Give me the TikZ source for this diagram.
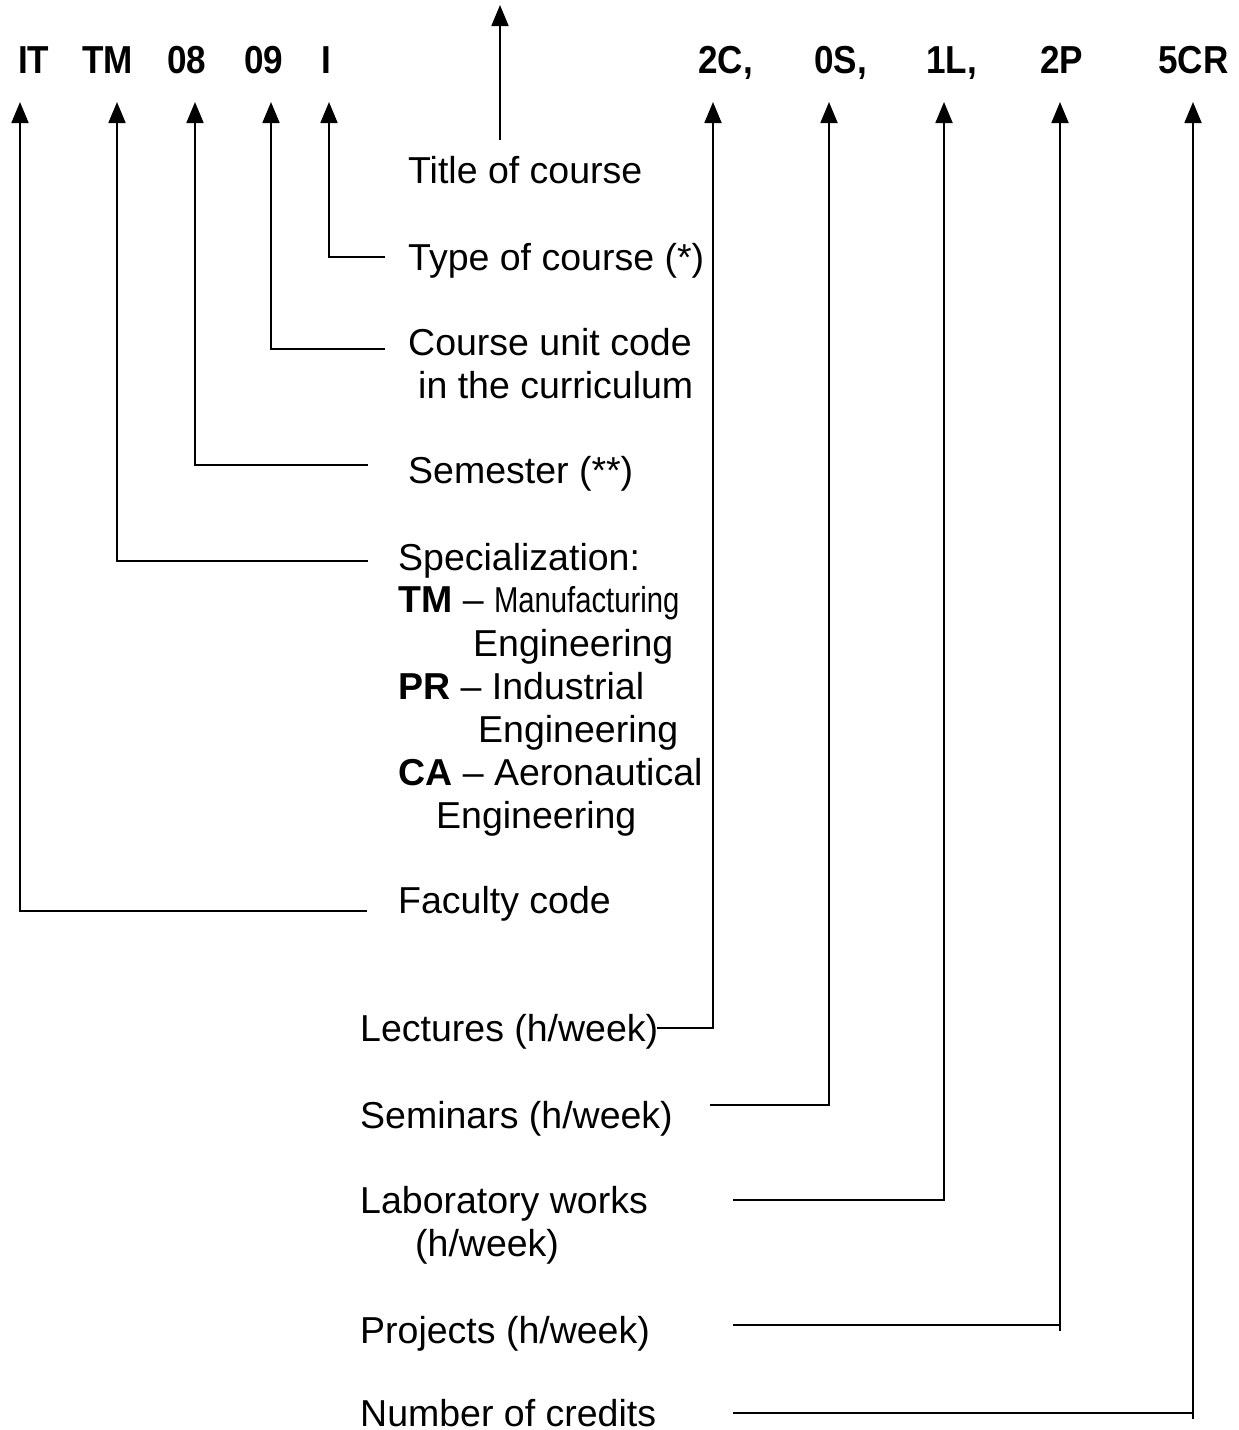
\documentclass[tikz,border=0pt]{standalone}
\usepackage{fontspec}
\setmainfont{Liberation Sans}
\usetikzlibrary{arrows.meta}
\newcommand{\codetxt}[1]{\scalebox{0.9}[1]{#1}}
\begin{document}
\begin{tikzpicture}[x=1pt,y=-1pt,
  lbl/.style={anchor=base west,inner sep=0pt,text depth=0pt,font=\fontsize{37.5}{43}\selectfont},
  code/.style={anchor=base west,inner sep=0pt,font=\fontsize{39}{43}\selectfont\bfseries},
  conn/.style={line width=1.8pt},
  arr/.style={line width=1.8pt,-{Triangle[width=17pt,length=21pt]}}]
\useasboundingbox (0,0) rectangle (1239,1430);
% top code row
\node[code] (cIT) at (18,73) {\codetxt{IT}};
\node[code] (cTM) at (82,73) {\codetxt{TM}};
\node[code] (c08) at (167,73) {\codetxt{08}};
\node[code] (c09) at (244,73) {\codetxt{09}};
\node[code] (cI)  at (321,73) {\codetxt{I}};
\node[code] (c2C) at (698,73) {\codetxt{2C,}};
\node[code] (c0S) at (814,73) {\codetxt{0S,}};
\node[code] (c1L) at (926,73) {\codetxt{1L,}};
\node[code] (c2P) at (1040,73) {\codetxt{2P}};
\node[code] (c5CR) at (1158,73) {\codetxt{5CR}};
% labels
\node[lbl] (title) at (408,183) {Title of course};
\node[lbl] (type) at (408,270) {Type of course (*)};
\node[lbl] (unit1) at (408,355) {Course unit code};
\node[lbl] (unit2) at (418,398) {in the curriculum};
\node[lbl] (sem) at (408,483) {Semester (**)};
\node[lbl] (spec) at (398,570) {Specialization:};
\node[lbl] (specTM) at (398,612) {\textbf{TM} -- \scalebox{0.78}[0.96]{Manufacturing}};
\node[lbl] (specTMb) at (473,656) {Engineering};
\node[lbl] (specPR) at (398,699) {\textbf{PR} -- Industrial};
\node[lbl] (specPRb) at (478,742) {Engineering};
\node[lbl] (specCA) at (398,785) {\textbf{CA} -- Aeronautical};
\node[lbl] (specCAb) at (436,828) {Engineering};
\node[lbl] (fac) at (398,913) {Faculty code};
\node[lbl] (lec) at (360,1041) {Lectures (h/week)};
\node[lbl] (semi) at (360,1128) {Seminars (h/week)};
\node[lbl] (lab1) at (360,1213) {Laboratory works};
\node[lbl] (lab2) at (415,1256) {(h/week)};
\node[lbl] (proj) at (360,1343) {Projects (h/week)};
\node[lbl] (cred) at (360,1426) {Number of credits};
% arrow tips
\coordinate (tIT) at (20,102);
\coordinate (tTM) at (117,102);
\coordinate (t08) at (195,102);
\coordinate (t09) at (271,102);
\coordinate (tI)  at (329,102);
\coordinate (tTitle) at (500,5);
\coordinate (t2C) at (713,102);
\coordinate (t0S) at (829,102);
\coordinate (t1L) at (944,102);
\coordinate (t2P) at (1060,102);
\coordinate (t5CR) at (1193,102);
% corners and free ends
\coordinate (sTitle) at (500,140);
\coordinate (kI) at (329,257);  \coordinate (eI) at (385,257);
\coordinate (k09) at (271,349); \coordinate (e09) at (385,349);
\coordinate (k08) at (195,465); \coordinate (e08) at (368,465);
\coordinate (kTM) at (117,561); \coordinate (eTM) at (368,561);
\coordinate (kIT) at (20,911);  \coordinate (eIT) at (367,911);
\coordinate (k2C) at (713,1028); \coordinate (e2C) at (657,1028);
\coordinate (k0S) at (829,1105); \coordinate (e0S) at (710,1105);
\coordinate (k1L) at (944,1200); \coordinate (e1L) at (733,1200);
\coordinate (k2P) at (1060,1325); \coordinate (e2P) at (733,1325);
\coordinate (k5CR) at (1193,1413); \coordinate (e5CR) at (733,1413);
% connectors
\draw[arr] (sTitle) -- (tTitle);
\draw[arr] (eI) -- (kI) -- (tI);
\draw[arr] (e09) -- (k09) -- (t09);
\draw[arr] (e08) -- (k08) -- (t08);
\draw[arr] (eTM) -- (kTM) -- (tTM);
\draw[arr] (eIT) -- (kIT) -- (tIT);
\draw[arr] (e2C) -- (k2C) -- (t2C);
\draw[arr] (e0S) -- (k0S) -- (t0S);
\draw[arr] (e1L) -- (k1L) -- (t1L);
\draw[arr] (e2P) -- (k2P) -- (t2P);
\draw[arr] (e5CR) -- (k5CR) -- (t5CR);
\draw[conn] (k2P) -- ++(0,6);
\draw[conn] (k5CR) -- ++(0,6);
\end{tikzpicture}
\end{document}
